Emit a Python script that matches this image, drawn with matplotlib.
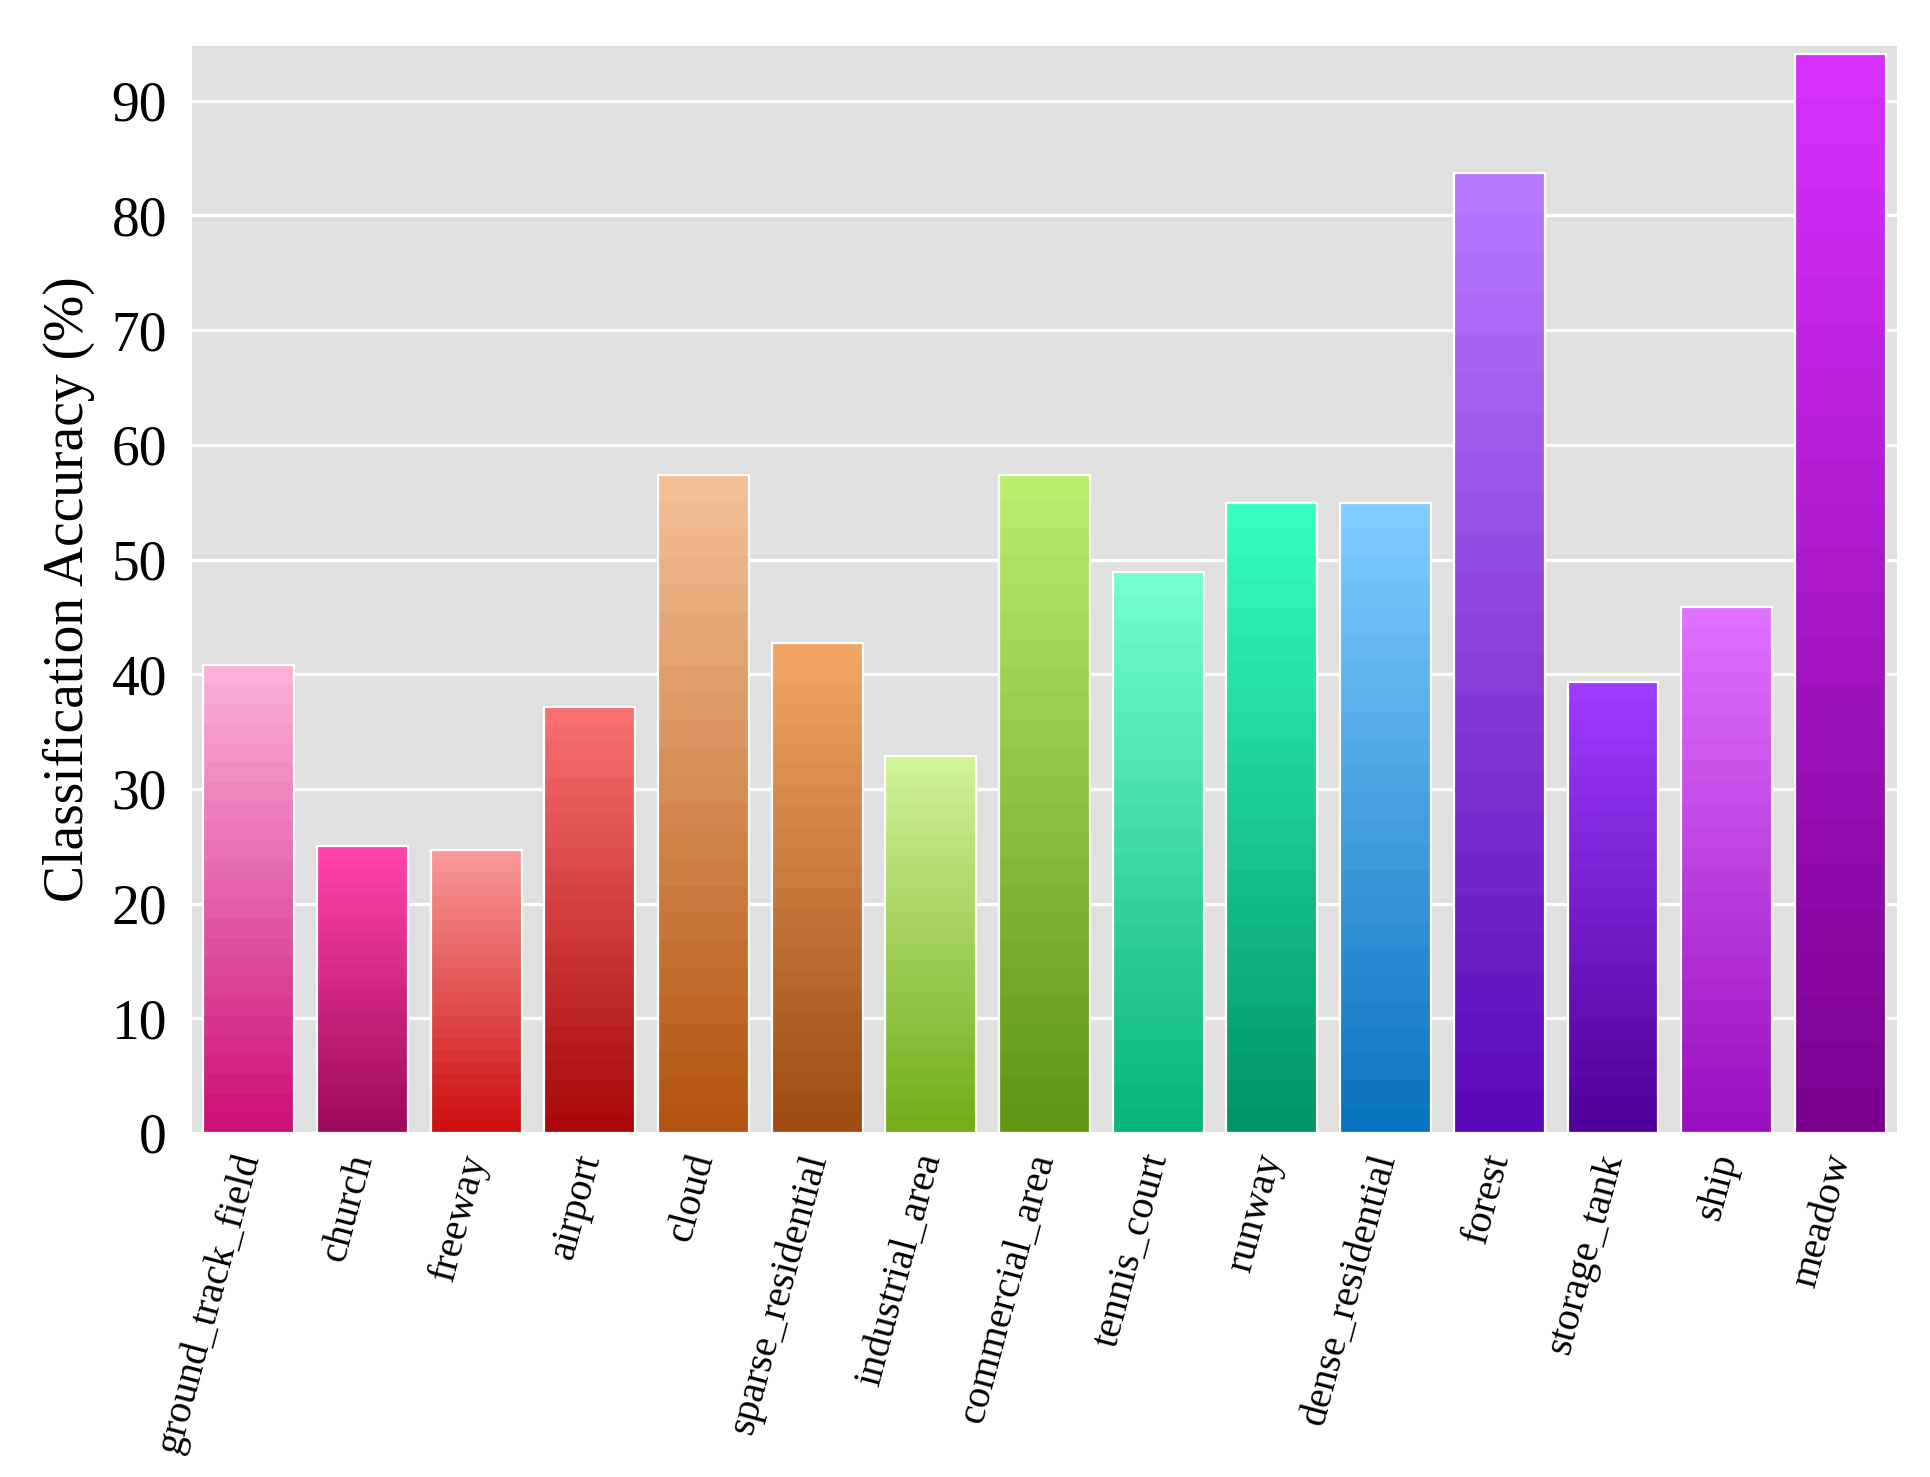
import matplotlib

matplotlib.use("Agg")
import matplotlib.pyplot as plt
import matplotlib.transforms as mtransforms
from matplotlib.colors import to_rgb
import numpy as np

plt.rcParams["font.family"] = ["Liberation Serif", "DejaVu Serif"]

categories = [
    "ground_track_field", "church", "freeway", "airport", "cloud",
    "sparse_residential", "industrial_area", "commercial_area", "tennis_court",
    "runway", "dense_residential", "forest", "storage_tank", "ship", "meadow",
]
accuracy = [40.8, 25.0, 24.7, 37.1, 57.4, 42.7, 32.9, 57.4, 48.9,
            54.9, 54.9, 83.7, 39.3, 45.9, 94.1]

# gradient colours per bar: top -> bottom
top_colors = ["#fbb0d9", "#ff44aa", "#f89898", "#f87070", "#f5bf95",
              "#f2a565", "#d0f298", "#bbec6b", "#74ffd2", "#35ffc0",
              "#80ccff", "#b878ff", "#9d3bff", "#e070ff", "#d830ff"]
bottom_colors = ["#cc1177", "#a00a5a", "#cc1010", "#a80808", "#b35510",
                 "#9e4c12", "#72ae1a", "#609615", "#08b57a", "#009568",
                 "#0a74c0", "#5a08b8", "#4f0098", "#9a10c0", "#7a0090"]

fig = plt.figure(figsize=(9.65, 7.385), dpi=200)
ax = fig.add_axes([0.0995, 0.233, 0.8835, 0.736])
ax.set_facecolor("#e0e0e0")
for s in ax.spines.values():
    s.set_visible(False)
ax.set_axisbelow(True)
ax.grid(axis="y", color="white", linewidth=1.2)

x = np.arange(len(categories))
bars = ax.bar(x, accuracy, width=0.8, facecolor="none", edgecolor="white",
              linewidth=0.8, zorder=3)

n_steps = 24
for bar, c_top, c_bot in zip(bars, top_colors, bottom_colors):
    t = np.linspace(0, 1, n_steps)[:, None]
    grad = (1 - t) * np.array(to_rgb(c_top)) + t * np.array(to_rgb(c_bot))
    grad = grad[:, None, :]
    x0, y0 = bar.get_x(), bar.get_y()
    w, h = bar.get_width(), bar.get_height()
    im = ax.imshow(grad, extent=(x0, x0 + w, y0, y0 + h), origin="upper",
                   aspect="auto", interpolation="nearest", zorder=2)
    im.set_clip_path(bar)

ax.set_xlim(-0.5, len(categories) - 0.5)
ax.set_ylim(0, 94.8)
ax.set_yticks(np.arange(0, 91, 10))
ax.tick_params(axis="both", length=0)
ax.tick_params(axis="y", labelsize=20, pad=9)
ax.tick_params(axis="x", pad=6)
ax.set_xticks(x)
ax.set_xticklabels(categories, rotation=75, ha="right", fontsize=14.5)
shift = mtransforms.ScaledTranslation(0.09, 0, fig.dpi_scale_trans)
for lbl in ax.get_xticklabels():
    lbl.set_transform(lbl.get_transform() + shift)
ax.set_ylabel("Classification Accuracy (%)", fontsize=20, labelpad=6)

fig.savefig("out.png", dpi=200)
